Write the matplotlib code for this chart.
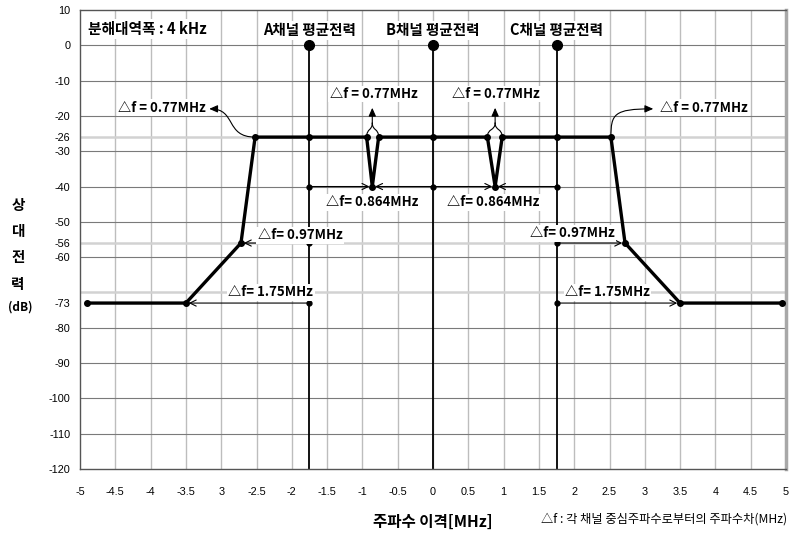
import matplotlib
matplotlib.use("Agg")
import matplotlib.pyplot as plt
from matplotlib.path import Path
from matplotlib.patches import FancyArrowPatch

KR = ['Noto Sans CJK KR', 'DejaVu Sans']

# ---------------- data ----------------
mask_x = [-4.9, -3.5, -2.72, -2.52, -0.94, -0.86, -0.77, 0.77, 0.88, 0.98, 2.52, 2.72, 3.5, 4.95]
mask_y = [-73, -73, -56, -26, -26, -40, -26, -26, -40, -26, -26, -56, -73, -73]

channel_x = [-1.75, 0.0, 1.75]
channel_labels = ['A채널 평균전력', 'B채널 평균전력', 'C채널 평균전력']
channel_top = 0
mask_level = -26

dip_x = [-0.86, 0.88]
dip_level = -40
dip_top_pairs = [(-0.94, -0.77), (0.77, 0.98)]
near_x = [-2.72, 2.72]
near_level = -56
far_x = [-3.5, 3.5]
far_level = -73
edge_x = [-2.52, 2.52]

xticks = [-5, -4.5, -4, -3.5, -3, -2.5, -2, -1.5, -1, -0.5, 0, 0.5, 1, 1.5, 2, 2.5, 3, 3.5, 4, 4.5, 5]
xtick_labels = ['-5', '-4.5', '-4', '-3.5', '3', '-2.5', '-2', '-1.5', '-1', '-0.5', '0',
                '0.5', '1', '1.5', '2', '2.5', '3', '3.5', '4', '4.5', '5']
yticks = [10, 0, -10, -20, -26, -30, -40, -50, -56, -60, -73, -80, -90, -100, -110, -120]
ytick_labels = [str(v) for v in yticks]
grid_dark = [0, -10, -20, -30, -40, -50, -60, -80, -90, -100, -110]
grid_light = [-26, -56, -70]
grid_vert = [-4.5 + 0.5 * i for i in range(19)]

# ---------------- figure ----------------
fig = plt.figure(figsize=(7.89, 5.37), dpi=100)
ax = fig.add_axes([0.1014, 0.1266, 0.8948, 0.8548])
ax.set_xlim(-5, 5)
ax.set_ylim(-120, 10)

for gx in grid_vert:
    ax.axvline(gx, color='#bdbdbd', lw=1.0, zorder=0)
for gy in grid_dark:
    ax.axhline(gy, color='#7a7a7a', lw=0.8, zorder=0)
for gy in grid_light:
    ax.axhline(gy, color='#d2d2d2', lw=1.8, zorder=0)

for s in ['left', 'top', 'bottom']:
    ax.spines[s].set_color('#555555')
    ax.spines[s].set_linewidth(1.0)
ax.spines['right'].set_color('#a8a8a8')
ax.spines['right'].set_linewidth(2.5)

ax.set_xticks(xticks)
ax.set_xticklabels(xtick_labels, family=['Liberation Sans', 'DejaVu Sans'], fontsize=7.8)
ax.set_yticks(yticks)
ax.set_yticklabels(ytick_labels, family=['Liberation Sans', 'DejaVu Sans'], fontsize=7.8)
ax.tick_params(axis='x', length=0, pad=13)
ax.tick_params(axis='y', length=0, pad=7)

# channel lines
for cx in channel_x:
    ax.plot([cx, cx], [channel_top, -120], color='black', lw=1.3, zorder=2)
    ax.plot([cx], [channel_top], 'o', color='black', ms=7, zorder=8, clip_on=False)
for cx, lab in zip(channel_x, channel_labels):
    ax.text(cx, 4.3, lab, family=KR, fontsize=10.5, fontweight='bold', ha='center', va='center',
            zorder=6, bbox=dict(facecolor='white', edgecolor='none', pad=1.0))

# mask
ax.plot(mask_x, mask_y, color='black', lw=2.4, zorder=3, solid_joinstyle='miter')
ax.plot(mask_x, mask_y, 'o', color='black', ms=4, zorder=4)
ax.plot(channel_x, [mask_level] * 3, 'o', color='black', ms=4, zorder=4)
ax.plot(channel_x, [dip_level] * 3, 'o', color='black', ms=3.5, zorder=4)
ax.plot([channel_x[0], channel_x[2]], [near_level] * 2, 'o', color='black', ms=3.5, zorder=4)
ax.plot([channel_x[0], channel_x[2]], [far_level] * 2, 'o', color='black', ms=3.5, zorder=4)

arw = dict(arrowstyle='->,head_length=0.45,head_width=0.22', lw=0.8, color='black',
           shrinkA=0, shrinkB=2)
# dip arrows
ax.annotate('', xy=(dip_x[0], dip_level), xytext=(channel_x[0], dip_level), arrowprops=arw, zorder=3)
ax.annotate('', xy=(dip_x[0], dip_level), xytext=(channel_x[1], dip_level), arrowprops=arw, zorder=3)
ax.annotate('', xy=(dip_x[1], dip_level), xytext=(channel_x[1], dip_level), arrowprops=arw, zorder=3)
ax.annotate('', xy=(dip_x[1], dip_level), xytext=(channel_x[2], dip_level), arrowprops=arw, zorder=3)
# near / far arrows
ax.annotate('', xy=(near_x[0], near_level), xytext=(channel_x[0], near_level), arrowprops=arw, zorder=3)
ax.annotate('', xy=(near_x[1], near_level), xytext=(channel_x[2], near_level), arrowprops=arw, zorder=3)
ax.annotate('', xy=(far_x[0], far_level), xytext=(channel_x[0], far_level), arrowprops=arw, zorder=3)
ax.annotate('', xy=(far_x[1], far_level), xytext=(channel_x[2], far_level), arrowprops=arw, zorder=3)

def curve(pts, head=True):
    codes = [Path.MOVETO, Path.CURVE4, Path.CURVE4, Path.CURVE4]
    style = '-|>,head_length=0.5,head_width=0.22' if head else '-'
    p = FancyArrowPatch(path=Path(pts, codes), arrowstyle=style, mutation_scale=10,
                        lw=0.8, color='black', zorder=3)
    ax.add_patch(p)

# outer curved arrows
curve([(edge_x[0], -26), (-2.95, -26), (-2.78, -18), (-3.17, -18)])
curve([(edge_x[1], -26), (2.52, -19.5), (2.56, -18), (3.12, -18)])

# middle braces
for (a, b), d in zip(dip_top_pairs, dip_x):
    curve([(a, -26), (a, -23.5), (d, -24.2), (d, -22)], head=False)
    curve([(b, -26), (b, -23.5), (d, -24.2), (d, -22)], head=False)
    ax.annotate('', xy=(d, -17.7), xytext=(d, -22.1),
                arrowprops=dict(arrowstyle='-|>,head_length=0.5,head_width=0.22', lw=0.8,
                                color='black', shrinkA=0, shrinkB=0, mutation_scale=10), zorder=3)

tb = dict(facecolor='white', edgecolor='none', pad=1)
tk = dict(family=KR, fontsize=9.5, fontweight='bold', zorder=6, bbox=tb, va='center')
ax.text(-4.46, -17.7, '△f = 0.77MHz', ha='left', **tk)
ax.text(3.22, -17.7, '△f = 0.77MHz', ha='left', **tk)
ax.text(-0.84, -13.8, '△f = 0.77MHz', ha='center', **tk)
ax.text(0.89, -13.8, '△f = 0.77MHz', ha='center', **tk)
ax.text(-0.86, -44.5, '△f= 0.864MHz', ha='center', **tk)
ax.text(0.85, -44.5, '△f= 0.864MHz', ha='center', **tk)
ax.text(-2.48, -53.8, '△f= 0.97MHz', ha='left', **tk)
ax.text(1.37, -53.3, '△f= 0.97MHz', ha='left', **tk)
ax.text(-2.9, -69.9, '△f= 1.75MHz', ha='left', **tk)
ax.text(1.87, -69.9, '△f= 1.75MHz', ha='left', **tk)

ax.text(-4.89, 4.5, '분해대역폭 : 4 kHz', family=KR, fontsize=10.6, fontweight='bold',
        ha='left', va='center', zorder=6, bbox=dict(facecolor='white', edgecolor='none', pad=1.5))

# y label (stacked)
W, H = 789, 537
for ch, py in zip(['상', '대', '전', '력'], [205, 231, 257, 284]):
    fig.text(18 / W, 1 - py / H, ch, family=KR, fontsize=10.5, fontweight='bold',
             ha='center', va='center')
fig.text(20 / W, 1 - 307 / H, '(dB)', family=KR, fontsize=8.5, fontweight='bold',
         ha='center', va='center')

fig.text(433 / W, 1 - 522 / H, '주파수 이격[MHz]', family=KR, fontsize=11.2, fontweight='bold',
         ha='center', va='center')
fig.text(787 / W, 1 - 519 / H, '△f : 각 채널 중심주파수로부터의 주파수차(MHz)', family=KR,
         fontsize=8.8, ha='right', va='center')

fig.savefig('out.png', dpi=100)
